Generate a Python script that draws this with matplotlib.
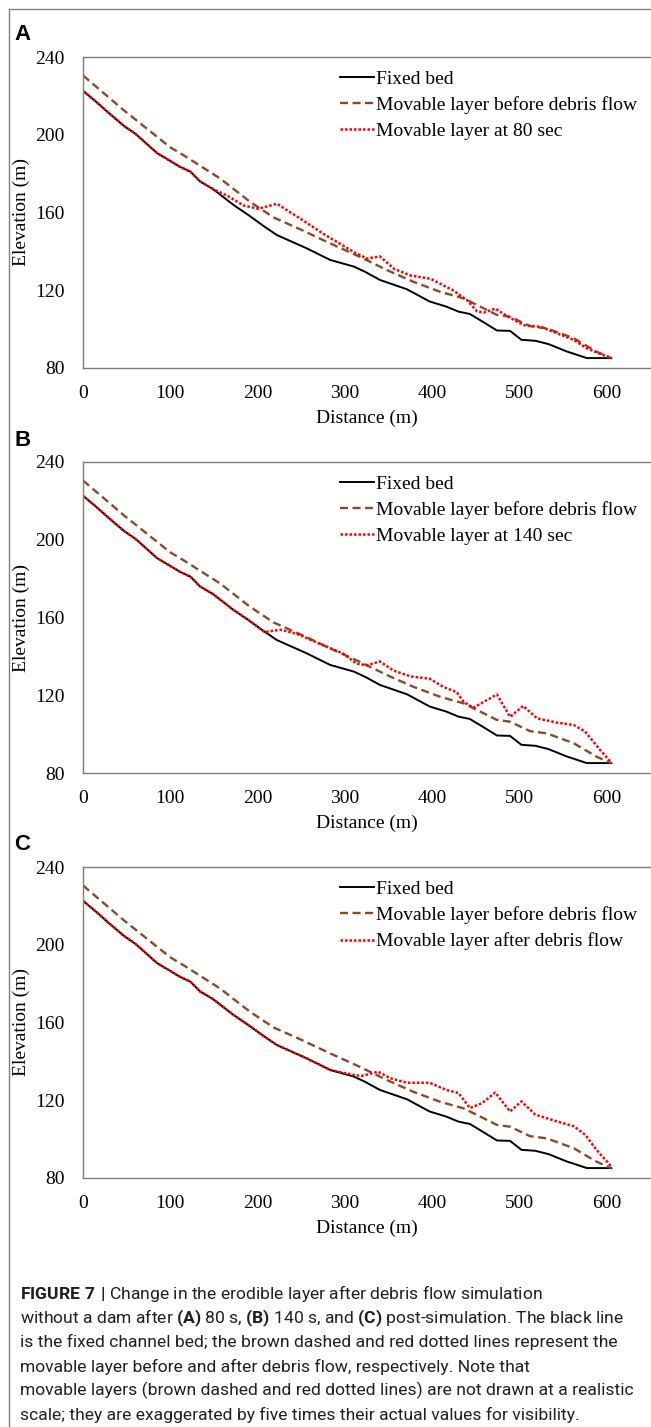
import matplotlib
matplotlib.use("Agg")
import matplotlib.pyplot as plt
from matplotlib.lines import Line2D

plt.rcParams['font.family'] = ['Liberation Serif', 'DejaVu Serif']
plt.rcParams['mathtext.fontset'] = 'custom'
plt.rcParams['mathtext.bf'] = 'Roboto:bold'
plt.rcParams['mathtext.rm'] = 'Roboto'

# fixed channel bed (same in every panel)
bed_x = [0, 15, 30, 47, 60, 85, 100, 111, 123, 134, 149, 172, 190, 205, 222, 256,
         283, 310, 323, 340, 371, 397, 416, 430, 443, 457, 474, 489, 502, 518,
         533, 554, 577, 605]
bed_y = [222.6, 217, 211, 204.5, 200.5, 190.5, 186.5, 183.5, 181, 176, 172, 164,
         158.5, 153.6, 148.4, 141.6, 135.6, 132.2, 129.5, 125.3, 120.5, 114.2,
         111.6, 109, 107.8, 104, 99.3, 99.1, 94.5, 94, 92.3, 88.5, 85.1, 85.1]

# movable layer before debris flow
move_x = [0, 47, 100, 115, 157, 191, 218, 249, 283, 317, 348, 378, 409, 436,
          474, 489, 512, 531, 562, 588, 605]
move_y = [230.5, 212.5, 193.5, 189.5, 177.5, 165.6, 157.5, 151.3, 144.1, 137.2,
          130.4, 124.4, 119.2, 115.8, 107.3, 106.4, 101.5, 100.4, 95.3, 88.4, 85]

# movable layer at 80 s
a_x = [0, 15, 30, 47, 60, 85, 100, 111, 123, 134, 149, 165, 184, 201, 222, 249,
       275, 310, 325, 340, 356, 375, 398, 424, 440, 451, 459, 472, 487, 505, 524,
       543, 562, 577, 605]
a_y = [222.6, 217, 211, 204.5, 200.5, 190.5, 186.5, 183.5, 181, 176, 172, 168.7,
       163.6, 161.9, 164.5, 156.8, 149.1, 139.7, 136.3, 137.4, 131.1, 127.6, 125.9,
       119.9, 114.8, 109.2, 108.5, 110.6, 106.3, 102.0, 101.2, 97.8, 94.4, 90.1, 85]

# movable layer at 140 s
b_x = [0, 15, 30, 47, 60, 85, 100, 111, 123, 134, 149, 172, 190, 208, 226, 245,
       271, 298, 313, 325, 340, 355, 375, 397, 413, 428, 436, 447, 474, 489, 504,
       520, 543, 562, 575, 592, 605]
b_y = [222.6, 217, 211, 204.5, 200.5, 190.5, 186.5, 183.5, 181, 176, 172, 164,
       158.5, 152.5, 153.7, 151.6, 146.5, 141.4, 136.3, 135.4, 137.4, 132.8, 129.7,
       128.5, 124.2, 121.6, 116.5, 113.6, 120.4, 108.9, 114.5, 108.1, 105.9, 104.7,
       101.3, 91.9, 85.4]

# movable layer after debris flow
c_x = [0, 15, 30, 47, 60, 85, 100, 111, 123, 134, 149, 172, 190, 205, 222, 256,
       283, 310, 319, 338, 352, 371, 397, 416, 430, 443, 457, 472, 489, 502, 518,
       542, 562, 575, 588, 605]
c_y = [222.6, 217, 211, 204.5, 200.5, 190.5, 186.5, 183.5, 181, 176, 172, 164,
       158.5, 153.6, 148.4, 141.6, 135.6, 133, 132.5, 134.7, 131.3, 129, 129, 125.3,
       123.7, 116, 118.5, 124, 114.2, 119.4, 112.6, 109.2, 106.6, 102.3, 94.5, 85.9]

panel_letters = ['A', 'B', 'C']
red_series = [(a_x, a_y), (b_x, b_y), (c_x, c_y)]
red_labels = ['Movable layer at 80 sec', 'Movable layer at 140 sec',
              'Movable layer after debris flow']
y_ticks = [80, 120, 160, 200, 240]
x_ticks = [0, 100, 200, 300, 400, 500, 600]

W, H = 651, 1427
fig = plt.figure(figsize=(W / 100, H / 100), dpi=100)

# panel boxes in pixels: (top, bottom)
boxes = [(57, 368), (462, 773), (867, 1178)]
letter_y = [35, 440, 845]
ax_left = 83

for i, (top, bot) in enumerate(boxes):
    ax = fig.add_axes([ax_left / W, 1 - bot / H, (W - ax_left) / W, (bot - top) / H])
    ax.plot(bed_x, bed_y, color='black', lw=1.4, label='Fixed bed')
    ax.plot(move_x, move_y, color='#8B4A26', lw=1.7, ls=(0, (3.4, 1.9)),
            label='Movable layer before debris flow')
    rx, ry = red_series[i]
    ax.plot(rx, ry, color='#FF0000', lw=1.8, ls=(0, (1, 0.8)), label=red_labels[i])

    ax.set_xlim(0, (W - ax_left) / 0.8733)
    ax.set_ylim(80, 240)
    ax.set_xticks(x_ticks)
    ax.set_yticks(y_ticks)
    ax.tick_params(length=0, labelsize=14, pad=12)
    ax.tick_params(axis='y', pad=13)
    for s in ['top', 'bottom', 'left']:
        ax.spines[s].set_color('#7f7f7f')
        ax.spines[s].set_linewidth(1.0)
    ax.spines['right'].set_visible(False)
    ax.set_xlabel('Distance (m)', fontsize=14, labelpad=6)
    ax.set_ylabel('Elevation (m)', fontsize=14, labelpad=4)

    ax.legend(loc='upper left', bbox_to_anchor=((340 - ax_left) / (W - ax_left), 0.957),
              frameon=False, fontsize=14, handlelength=1.75, handletextpad=0.1,
              labelspacing=0.43, borderpad=0, borderaxespad=0)

    fig.text(14 / W, 1 - letter_y[i] / H, panel_letters[i], fontsize=16,
             fontweight='bold', family='Liberation Sans', va='center', ha='left')

# outer frame lines (top and left)
fig.add_artist(Line2D([9 / W, 1], [1 - 9 / H, 1 - 9 / H], color='#808080', lw=1.0))
fig.add_artist(Line2D([9 / W, 9 / W], [0, 1 - 9 / H], color='#808080', lw=1.0))

caption = [
    r"$\bf{FIGURE\ 7\ |}$ Change in the erodible layer after debris flow simulation",
    r"without a dam after $\bf{(A)}$ 80 s, $\bf{(B)}$ 140 s, and $\bf{(C)}$ post-simulation. The black line",
    "is the fixed channel bed; the brown dashed and red dotted lines represent the",
    "movable layer before and after debris flow, respectively. Note that",
    "movable layers (brown dashed and red dotted lines) are not drawn at a realistic",
    "scale; they are exaggerated by five times their actual values for visibility.",
]
for k, line in enumerate(caption):
    fig.text(20 / W, 1 - (1294 + 24.2 * k) / H, line, fontsize=12.6,
             family=['Roboto', 'DejaVu Sans'], color='#231f20', va='center', ha='left')

fig.savefig('out.png', dpi=100)
